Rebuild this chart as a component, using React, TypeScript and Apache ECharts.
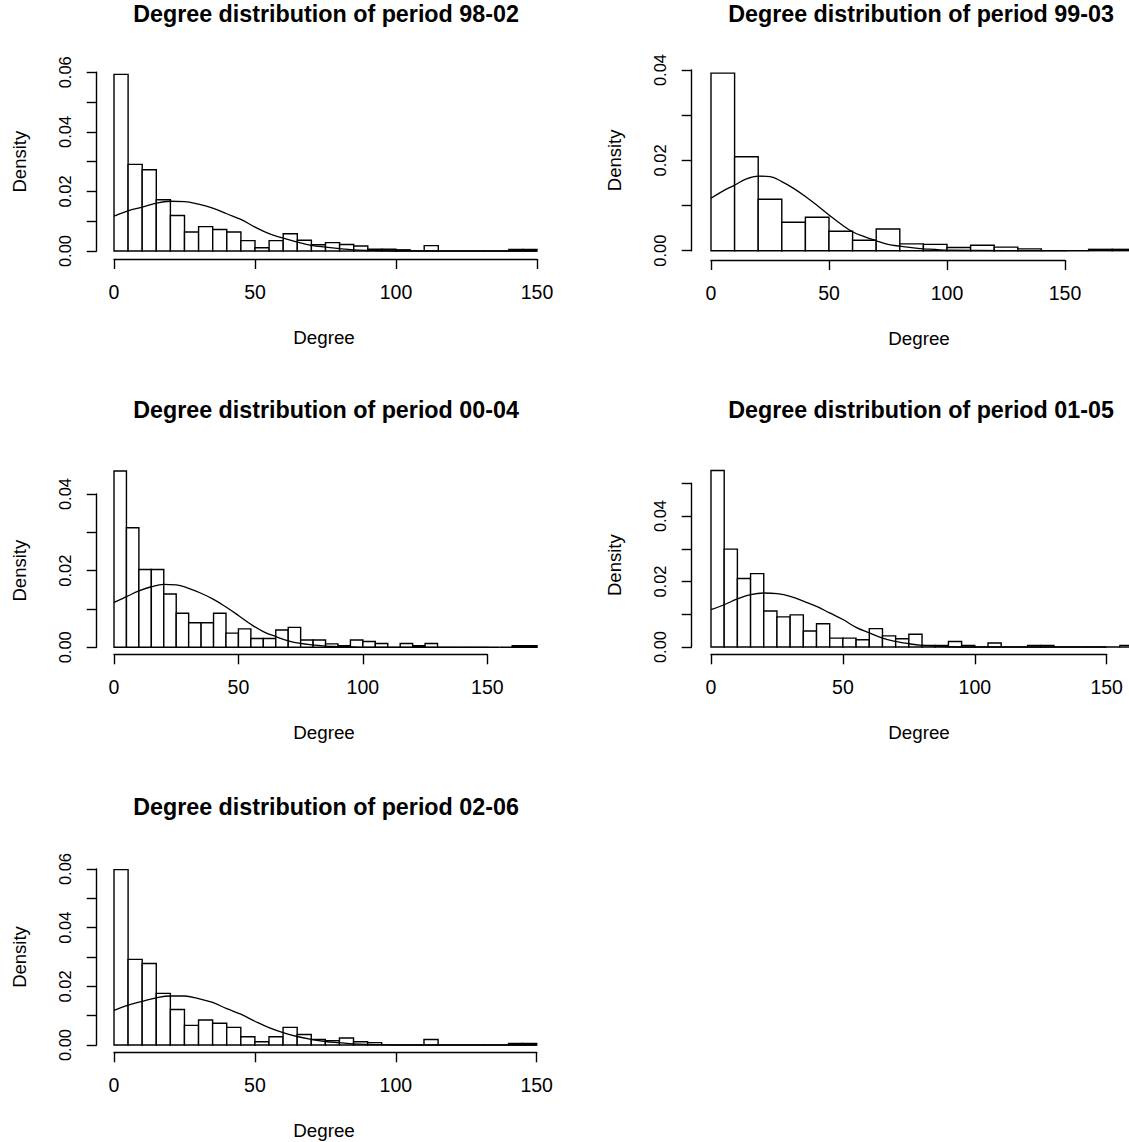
import React, { useEffect, useRef } from "react";
import * as echarts from "echarts";

// ---------- data ----------
const titles = [
  "Degree distribution of period 98-02",
  "Degree distribution of period 99-03",
  "Degree distribution of period 00-04",
  "Degree distribution of period 01-05",
  "Degree distribution of period 02-06",
];
const xLabel = "Degree";
const yLabel = "Density";
const xTicksMax = [150, 150, 150, 150, 150];
const yTicksMax = [0.06, 0.04, 0.04, 0.05, 0.06];
const binWidths = [5, 10, 5, 5, 5];

const dens9802 = [0.0593, 0.0291, 0.0273, 0.0172, 0.0119, 0.0064, 0.0082, 0.0072, 0.0064, 0.0035, 0.0011, 0.0035, 0.0058, 0.0036, 0.0021, 0.0028, 0.0022, 0.0017, 0.0006, 0.0006, 0.0004, 0, 0.0018, 0, 0, 0, 0, 0, 0.0005, 0.0005];
const dens9903 = [0.0393, 0.0208, 0.0114, 0.0063, 0.0074, 0.0043, 0.0023, 0.0048, 0.0015, 0.0014, 0.0007, 0.0012, 0.0008, 0.0004, 0, 0, 0.0003, 0.0003];
const dens0004 = [0.046, 0.0312, 0.0203, 0.0203, 0.0139, 0.0089, 0.0064, 0.0064, 0.0089, 0.0037, 0.0048, 0.0023, 0.0023, 0.0045, 0.0052, 0.0019, 0.0019, 0.0009, 0.0004, 0.0019, 0.0015, 0.001, 0, 0.001, 0.0004, 0.001, 0, 0, 0, 0, 0, 0, 0.0004, 0.0004];
const dens0105 = [0.0539, 0.0299, 0.0209, 0.0224, 0.011, 0.0092, 0.0098, 0.0049, 0.0071, 0.0027, 0.0027, 0.0022, 0.0056, 0.0034, 0.0025, 0.0039, 0.0005, 0.0005, 0.0017, 0.0005, 0, 0.0012, 0, 0, 0.0005, 0.0005, 0, 0, 0, 0, 0, 0.0005];
const dens0206 = [0.0598, 0.0292, 0.0278, 0.0176, 0.0121, 0.0067, 0.0085, 0.0074, 0.006, 0.0028, 0.0011, 0.0028, 0.006, 0.0036, 0.0019, 0.0015, 0.0024, 0.0011, 0.0008, 0, 0, 0, 0.0019, 0, 0, 0, 0, 0, 0.0005, 0.0005];

const curveX = [0, 5, 10, 15, 20, 25, 30, 35, 40, 45, 50, 55, 60, 65, 70, 75, 80, 85, 90, 95, 100, 150, 180];
const curve9802 = [0.0117, 0.0135, 0.0147, 0.0161, 0.0167, 0.0166, 0.0157, 0.0144, 0.0125, 0.0106, 0.008, 0.0058, 0.0043, 0.003, 0.0019, 0.0013, 0.0008, 0.0004, 0.0002, 0.0001, 0, 0];
const curve9903 = [0.0116, 0.0132, 0.0145, 0.0159, 0.0165, 0.0164, 0.0153, 0.0138, 0.012, 0.01, 0.0079, 0.0059, 0.0042, 0.0031, 0.0022, 0.0014, 0.001, 0.0007, 0.0004, 0.0003, 0.0001, 0, 0];
const curve0004 = [0.0117, 0.0132, 0.0147, 0.0158, 0.0164, 0.0163, 0.0154, 0.0141, 0.0125, 0.0105, 0.0083, 0.006, 0.0041, 0.0028, 0.0017, 0.001, 0.0006, 0.0003, 0.0002, 0.0001, 0, 0, 0];
const curve0105 = [0.0114, 0.0129, 0.0147, 0.016, 0.0165, 0.0163, 0.0155, 0.014, 0.0124, 0.0104, 0.0084, 0.006, 0.0043, 0.0027, 0.0017, 0.001, 0.0005, 0.0003, 0.0001, 0, 0, 0];
const curve0206 = [0.0118, 0.0136, 0.0149, 0.0161, 0.0167, 0.0167, 0.0158, 0.0145, 0.0124, 0.0105, 0.0081, 0.0059, 0.0042, 0.0029, 0.0019, 0.0012, 0.0008, 0.0004, 0.0002, 0.0001, 0, 0];

const densities = [dens9802, dens9903, dens0004, dens0105, dens0206];
const curves = [curve9802, curve9903, curve0004, curve0105, curve0206];

// ---------- layout (pixels) ----------
const layout = [
  { x0: 114, x1: 537, yBase: 251, yTop: 72.3, xLine: 259, yLine: 96.7, tx: 326, ty: 14 },
  { x0: 711, x1: 1065, yBase: 250.7, yTop: 70, xLine: 260, yLine: 691.7, tx: 921, ty: 14 },
  { x0: 114, x1: 487.3, yBase: 647.3, yTop: 494, xLine: 654.3, yLine: 96.7, tx: 326, ty: 410 },
  { x0: 711, x1: 1106.7, yBase: 647, yTop: 483.3, xLine: 654.3, yLine: 691.7, tx: 921, ty: 410 },
  { x0: 114, x1: 536.7, yBase: 1045, yTop: 869, xLine: 1052.3, yLine: 96.7, tx: 326, ty: 807 },
];

const FONT = "'Liberation Sans', Arial, sans-serif";
const LW = 1.4;

export default function App() {
  const ref = useRef<HTMLDivElement>(null);
  useEffect(() => {
    document.body.style.margin = "0";
    const chart = echarts.init(ref.current!, undefined, { renderer: "svg" });
    const grid: any[] = [];
    const xAxis: any[] = [];
    const yAxis: any[] = [];
    const series: any[] = [];
    const graphic: any[] = [];
    layout.forEach((L, i) => {
      grid.push({ left: L.x0, top: L.yTop, width: L.x1 - L.x0, height: L.yBase - L.yTop, containLabel: false });
      xAxis.push({
        type: "value", gridIndex: i, min: 0, max: xTicksMax[i], interval: 50,
        position: "bottom",
        offset: L.xLine - L.yBase,
        splitLine: { show: false },
        axisLine: { show: true, onZero: false, lineStyle: { color: "#000", width: LW } },
        axisTick: { show: true, inside: false, length: 10, lineStyle: { color: "#000", width: LW } },
        axisLabel: { color: "#000", fontSize: 19.5, fontFamily: FONT, margin: 23 },
      });
      yAxis.push({
        type: "value", gridIndex: i, min: 0, max: yTicksMax[i], interval: 0.01,
        position: "left",
        offset: L.x0 - L.yLine,
        splitLine: { show: false },
        axisLine: { show: true, onZero: false, lineStyle: { color: "#000", width: LW } },
        axisTick: { show: true, inside: false, length: 10, lineStyle: { color: "#000", width: LW } },
        axisLabel: {
          color: "#000", fontSize: 16.5, fontFamily: FONT, rotate: 90, margin: 23,
          formatter: (v: number) => (Math.round(v / 0.01) % 2 === 0 ? v.toFixed(2) : ""),
        },
        name: yLabel, nameLocation: "middle", nameGap: 68, nameRotate: 90,
        nameTextStyle: { color: "#000", fontSize: 18.5, fontFamily: FONT },
      });
      const w = binWidths[i];
      series.push({
        type: "custom", xAxisIndex: i, yAxisIndex: i, clip: false, silent: true,
        data: densities[i].map((d, k) => [k * w, (k + 1) * w, d]),
        renderItem: (params: any, api: any) => {
          const p1 = api.coord([api.value(0), api.value(2)]);
          const p2 = api.coord([api.value(1), 0]);
          return {
            type: "rect",
            shape: { x: p1[0], y: p1[1], width: p2[0] - p1[0], height: p2[1] - p1[1] },
            style: { fill: "#fff", stroke: "#000", lineWidth: LW },
          };
        },
      });
      series.push({
        type: "line", xAxisIndex: i, yAxisIndex: i, clip: false, silent: true,
        showSymbol: false, smooth: 0.4,
        data: curves[i].map((v, k) => [curveX[k], v]),
        lineStyle: { color: "#000", width: 1.3 },
        z: 3,
      });
      graphic.push({
        type: "text", x: L.tx, y: L.ty,
        style: {
          text: titles[i], align: "center", verticalAlign: "middle",
          fontSize: 23.3, fontWeight: "bold", fontFamily: FONT, fill: "#000",
        },
      });
      graphic.push({
        type: "text", x: L.tx - 2, y: L.xLine + 78,
        style: {
          text: xLabel, align: "center", verticalAlign: "middle",
          fontSize: 18.8, fontFamily: FONT, fill: "#000",
        },
      });
    });
    chart.setOption({
      animation: false,
      backgroundColor: "#fff",
      grid, xAxis, yAxis, series, graphic,
    });
    return () => chart.dispose();
  }, []);
  return <div ref={ref} style={{ width: 1129, height: 1142 }} />;
}
